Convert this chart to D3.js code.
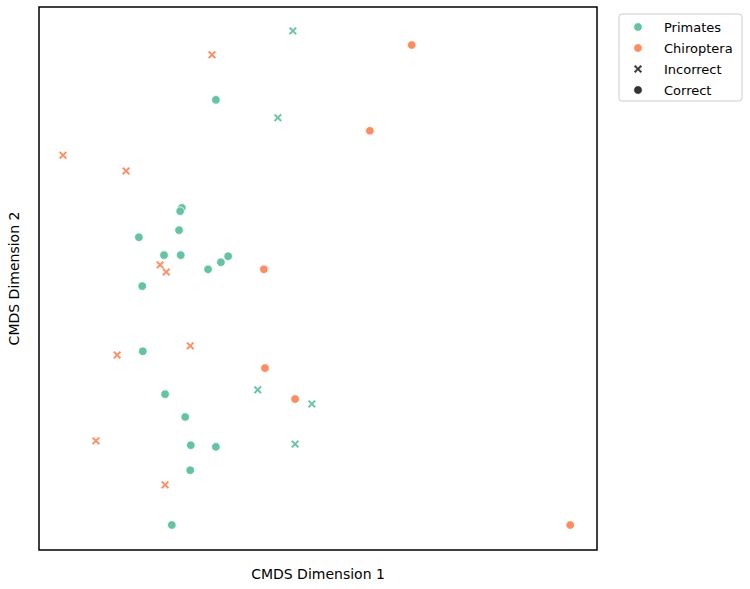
<!DOCTYPE html>
<html>
<head>
<script src="https://d3js.org/d3.v7.min.js"></script>
<style>body{margin:0;background:#fff;font-family:"DejaVu Sans",sans-serif;}</style>
</head>
<body>
<script>
// CMDS coordinates (arbitrary units)
var primatesCorrectX = [31.7,25.6,25.3,17.9,25.1,22.4,25.4,33.9,32.6,30.3,18.5,18.6,22.6,26.2,27.2,31.7,27.1,23.8];
var primatesCorrectY = [82.9,63.0,62.4,57.6,58.9,54.3,54.3,54.1,53.0,51.7,48.6,36.6,28.7,24.5,19.3,19.0,14.7,4.6];
var primatesWrongX = [45.5,42.8,39.2,48.9,45.9];
var primatesWrongY = [95.6,79.6,29.5,26.9,19.5];
var chiroCorrectX = [66.8,59.3,40.3,40.5,45.9,95.2];
var chiroCorrectY = [93.0,77.2,51.7,33.5,27.8,4.6];
var chiroWrongX = [31.0,4.3,15.6,21.7,22.8,14.0,27.1,10.2,22.6];
var chiroWrongY = [91.2,72.7,69.8,52.5,51.2,35.9,37.6,20.1,12.0];

var groups = ["Primates","Chiroptera"];
var colors = {"Primates":"#66c2a5","Chiroptera":"#fc8d62"};

var pts = [];
function add(xs, ys, g, ok){ xs.forEach(function(x,i){ pts.push({x:x,y:ys[i],g:g,ok:ok}); }); }
add(primatesCorrectX, primatesCorrectY, "Primates", true);
add(primatesWrongX, primatesWrongY, "Primates", false);
add(chiroCorrectX, chiroCorrectY, "Chiroptera", true);
add(chiroWrongX, chiroWrongY, "Chiroptera", false);

var W = 750, H = 589, L = 39, R = 597, T = 7, B = 550;
var svg = d3.select("body").append("svg").attr("width", W).attr("height", H);

var x = d3.scaleLinear().domain([0,100]).range([L,R]);
var y = d3.scaleLinear().domain([0,100]).range([B,T]);

var xShape = "M-4.2,-2.6L-2.6,-4.2L0,-1.6L2.6,-4.2L4.2,-2.6L1.6,0L4.2,2.6L2.6,4.2L0,1.6L-2.6,4.2L-4.2,2.6L-1.6,0Z";

function mark(sel, ok, col){
  if (ok) sel.append("circle").attr("r", 4.3).attr("fill", col).attr("stroke","#fff").attr("stroke-width",0.8);
  else sel.append("path").attr("d", xShape).attr("fill", col).attr("stroke","#fff").attr("stroke-width",0.5);
}

pts.forEach(function(d){
  var g = svg.append("g").attr("transform","translate("+x(d.x)+","+y(d.y)+")");
  mark(g, d.ok, colors[d.g]);
});

svg.append("rect").attr("x",L).attr("y",T).attr("width",R-L).attr("height",B-T)
  .attr("fill","none").attr("stroke","#000").attr("stroke-width",1.5);

svg.append("text").attr("x",(L+R)/2).attr("y",579).attr("text-anchor","middle")
  .attr("font-size",14).text("CMDS Dimension 1");
svg.append("text").attr("transform","translate(19,"+((T+B)/2)+") rotate(-90)")
  .attr("text-anchor","middle").attr("font-size",14).text("CMDS Dimension 2");

// legend
var lg = svg.append("g").attr("transform","translate(619,14)");
lg.append("rect").attr("width",123).attr("height",87).attr("rx",3)
  .attr("fill","#fff").attr("stroke","#ccc");
var items = [
  {t:"Primates", c:colors.Primates, ok:true},
  {t:"Chiroptera", c:colors.Chiroptera, ok:true},
  {t:"Incorrect", c:"#333", ok:false},
  {t:"Correct", c:"#333", ok:true}
];
items.forEach(function(it,i){
  var g = lg.append("g").attr("transform","translate(19,"+(13+i*21)+")");
  mark(g, it.ok, it.c);
  g.append("text").attr("x",26).attr("y",5).attr("font-size",13).text(it.t);
});
</script>
</body>
</html>
